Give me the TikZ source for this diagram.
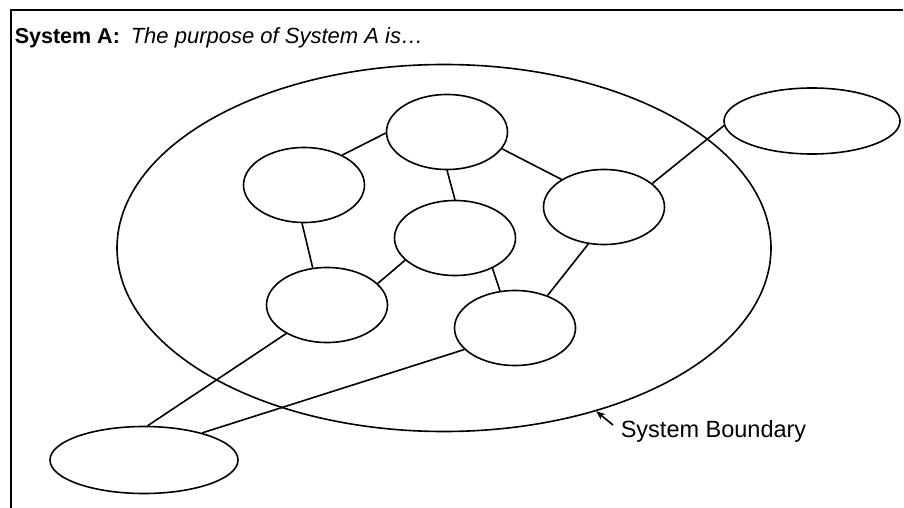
\documentclass[tikz,border=0pt]{standalone}
\usepackage{fontspec}
\setmainfont{Liberation Sans}
\usetikzlibrary{shapes.geometric,arrows.meta}
\tikzset{
	part/.style={draw,ellipse,inner sep=0pt,minimum width=121pt,minimum height=75pt},
	txt/.style={anchor=base west,inner sep=0pt},
}
\begin{document}
\begin{tikzpicture}[x=1pt,y=-1pt,line width=1.6pt]
	\useasboundingbox (0,0) rectangle (904,508);
	\draw[line width=2.6pt] (11,508)--(11,10)--(903,10);
	\node[draw,ellipse,inner sep=0pt,minimum width=654pt,minimum height=367pt] (bnd) at (444,248) {};
	\foreach \n/\x/\y in {n1/447/132,n2/304/185,n3/455/238,
		n4/604/207,n5/327/305,n6/515/328}
	\node[part] (\n) at (\x,\y) {};
	\node[part,minimum width=176pt,minimum height=66pt] (ext1) at (812,121) {};
	\node[part,minimum width=188pt,minimum height=67pt] (ext2) at (144,460) {};
	\foreach \a/\i/\b/\j in {n2/38/n1/181,n1/343/n4/147,n1/270/n3/90,
		n2/267/n5/111,n5/23/n3/204,n3/321/n6/112,n4/247/n6/45,
		n4/26/ext1/183,n5/215/ext2/84,n6/203/ext2/25}
	\draw (\a.\i)--(\b.\j);
	\node[txt,font=\fontsize{21.5}{26}\selectfont\bfseries] (title) at (14,44) {System A:};
	\node[txt,font=\fontsize{22}{26}\selectfont\itshape] (purpose) at (130,44) {The purpose of System A is\dots};
	\node[txt,font=\fontsize{23.5}{28}\selectfont] (lbl) at (620,437) {System Boundary};
	\coordinate (tail) at (613,425);
	\draw[-{Stealth[length=9pt,width=7pt]}] (tail)--(bnd.313);
\end{tikzpicture}
\end{document}
